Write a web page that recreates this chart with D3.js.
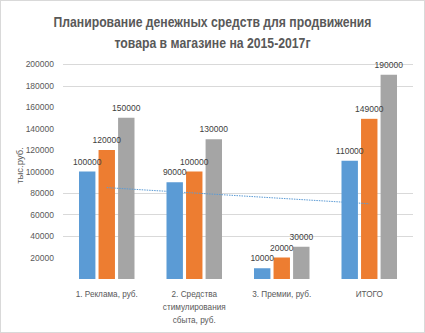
<!DOCTYPE html>
<html>
<head>
<meta charset="utf-8">
<script src="https://cdn.jsdelivr.net/npm/d3@7"></script>
<style>
  html, body { margin: 0; padding: 0; background: #fff; }
  svg { display: block; }
  text { font-family: "Liberation Sans", Arial, sans-serif; }
</style>
</head>
<body>
<svg id="chart" width="425" height="333"></svg>
<script>
// Budget plan per category for three years (2015, 2016, 2017)
const categories = [
  ["1. Реклама, руб."],
  ["2. Средства", "стимулирования", "сбыта, руб."],
  ["3. Премии, руб."],
  ["ИТОГО"]
];
const series2015 = [100000, 90000, 10000, 110000];
const series2016 = [120000, 100000, 20000, 149000];
const series2017 = [150000, 130000, 30000, 190000];
const yTicks = [20000, 40000, 60000, 80000, 100000, 120000, 140000, 160000, 180000, 200000];
const gridTicks = [40000, 60000, 80000, 180000, 200000];
const titleLines = ["Планирование денежных средств для  продвижения", "товара в магазине на 2015-2017г"];
const yTitle = "тыс.руб.";

const seriesList = [series2015, series2016, series2017];
const colors = ["#5b9bd5", "#ed7d31", "#a5a5a5"];

const W = 425, H = 333;
const margin = { left: 63, right: 12, top: 64, bottom: 54 };
const svg = d3.select("#chart");

// outer frame
svg.append("rect")
  .attr("x", 0.5).attr("y", 0.5)
  .attr("width", W - 1).attr("height", H - 1)
  .attr("fill", "#fff").attr("stroke", "#d9d9d9");

const x = d3.scaleBand()
  .domain(d3.range(categories.length))
  .range([margin.left, W - margin.right])
  .paddingInner(0).paddingOuter(0);

const x1 = d3.scaleBand()
  .domain(d3.range(seriesList.length))
  .range([16, x.bandwidth() - 16])
  .paddingInner(0.16);

const y = d3.scaleLinear()
  .domain([0, 200000])
  .range([H - margin.bottom, margin.top]);

// gridlines
svg.append("g").selectAll("line")
  .data(gridTicks)
  .join("line")
  .attr("x1", margin.left).attr("x2", W - margin.right)
  .attr("y1", d => Math.round(y(d)) + 0.5).attr("y2", d => Math.round(y(d)) + 0.5)
  .attr("stroke", "#d9d9d9").attr("stroke-width", 1);

// y axis labels
const yAxis = d3.axisLeft(y).tickValues(yTicks).tickSize(0).tickPadding(9).tickFormat(d3.format("d"));
const gy = svg.append("g").attr("transform", `translate(${margin.left},0)`).call(yAxis);
gy.select(".domain").remove();
gy.selectAll("text")
  .attr("fill", "#595959")
  .style("font-size", "8.5px");

// axis title
svg.append("text")
  .attr("transform", `translate(23,${(margin.top + H - margin.bottom) / 2 - 6}) rotate(-90)`)
  .attr("text-anchor", "middle")
  .attr("fill", "#595959")
  .style("font-size", "9.5px")
  .text(yTitle);

// bars
const groups = svg.append("g").selectAll("g")
  .data(categories.map((c, i) => i))
  .join("g")
  .attr("transform", i => `translate(${x(i)},0)`);

groups.selectAll("rect")
  .data(i => seriesList.map((s, k) => ({ k, v: s[i] })))
  .join("rect")
  .attr("x", d => x1(d.k))
  .attr("width", x1.bandwidth())
  .attr("y", d => y(d.v))
  .attr("height", d => y(0) - y(d.v))
  .attr("fill", d => colors[d.k]);

groups.selectAll("text.val")
  .data(i => seriesList.map((s, k) => ({ k, v: s[i] })))
  .join("text")
  .attr("class", "val")
  .attr("x", d => x1(d.k) + x1.bandwidth() / 2)
  .attr("y", d => y(d.v) - 7)
  .attr("text-anchor", "middle")
  .attr("fill", "#404040")
  .style("font-size", "8.5px")
  .text(d => d.v);

// linear trend of the 2015 series
const n = series2015.length;
const xs = d3.range(1, n + 1);
const mx = d3.mean(xs), my = d3.mean(series2015);
const slope = d3.sum(xs.map((xv, i) => (xv - mx) * (series2015[i] - my))) / d3.sum(xs.map(xv => (xv - mx) ** 2));
const icpt = my - slope * mx;
const trendPts = [1, n].map(xv => [x(xv - 1) + x.bandwidth() / 2, y(icpt + slope * xv)]);
svg.append("path")
  .attr("d", d3.line()(trendPts))
  .attr("fill", "none")
  .attr("stroke", "#5b9bd5")
  .attr("stroke-width", 1)
  .attr("stroke-dasharray", "1.5,1");

// category labels
const cat = svg.append("g").selectAll("text")
  .data(categories)
  .join("text")
  .attr("x", (c, i) => x(i) + x.bandwidth() / 2)
  .attr("y", 297)
  .attr("text-anchor", "middle")
  .attr("fill", "#595959")
  .style("font-size", "8.2px");
cat.selectAll("tspan")
  .data(c => c)
  .join("tspan")
  .attr("x", function () { return this.parentNode.getAttribute("x"); })
  .attr("dy", (d, j) => j === 0 ? 0 : 13)
  .text(d => d);

// title
const titleWidths = [318, 196];
svg.append("g").selectAll("text")
  .data(titleLines)
  .join("text")
  .attr("x", W / 2)
  .attr("y", (d, i) => 27 + i * 21)
  .attr("text-anchor", "middle")
  .attr("fill", "#595959")
  .attr("textLength", (d, i) => titleWidths[i])
  .attr("lengthAdjust", "spacingAndGlyphs")
  .style("font-size", "14px")
  .style("font-weight", "bold")
  .text(d => d);
</script>
</body>
</html>
